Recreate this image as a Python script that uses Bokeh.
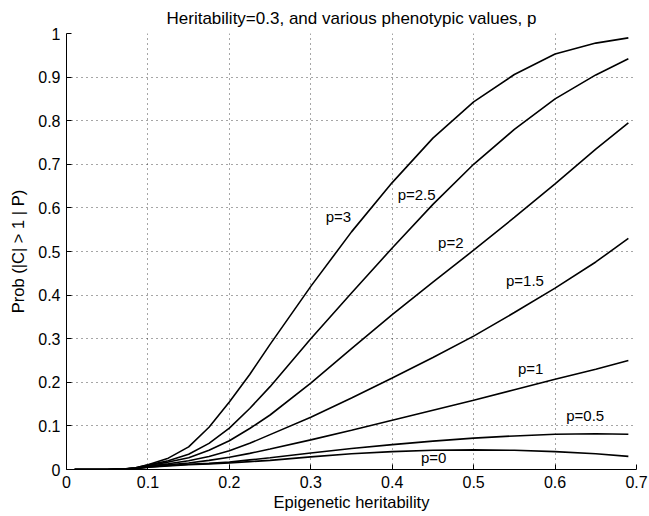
from bokeh.plotting import figure
from bokeh.models import ColumnDataSource, FixedTicker, Range1d
from bokeh.core.properties import value
from bokeh.embed import file_html
from bokeh.resources import INLINE

title_text = "Heritability=0.3, and various phenotypic values, p"
x_label = "Epigenetic heritability"
y_label = "Prob (|C| > 1 | P)"

x = [0.01, 0.05, 0.07, 0.085, 0.1, 0.125, 0.15, 0.175, 0.2, 0.225, 0.25,
     0.3, 0.35, 0.4, 0.45, 0.5, 0.55, 0.6, 0.65, 0.69]

p3 = [0, 0, 0.001, 0.004, 0.011, 0.026, 0.052, 0.097, 0.155, 0.218, 0.287,
      0.42, 0.545, 0.658, 0.76, 0.843, 0.906, 0.953, 0.978, 0.99]
p25 = [0, 0, 0.001, 0.004, 0.010, 0.02, 0.035, 0.06, 0.095, 0.14, 0.19,
       0.30, 0.405, 0.508, 0.608, 0.70, 0.78, 0.85, 0.905, 0.942]
p2 = [0, 0, 0.001, 0.003, 0.009, 0.017, 0.027, 0.044, 0.066, 0.094, 0.125,
      0.198, 0.277, 0.355, 0.43, 0.503, 0.578, 0.655, 0.735, 0.795]
p15 = [0, 0, 0.001, 0.003, 0.008, 0.013, 0.02, 0.03, 0.043, 0.06, 0.08,
       0.12, 0.164, 0.21, 0.257, 0.306, 0.36, 0.416, 0.476, 0.53]
p1 = [0, 0, 0.001, 0.003, 0.007, 0.011, 0.015, 0.021, 0.028, 0.037, 0.047,
      0.068, 0.09, 0.113, 0.136, 0.159, 0.183, 0.207, 0.23, 0.25]
p05 = [0, 0, 0.001, 0.002, 0.005, 0.009, 0.012, 0.014, 0.017, 0.022, 0.027,
       0.038, 0.048, 0.057, 0.065, 0.072, 0.077, 0.081, 0.082, 0.081]
p0 = [0, 0, 0.001, 0.002, 0.005, 0.008, 0.011, 0.013, 0.015, 0.018, 0.021,
      0.029, 0.036, 0.041, 0.044, 0.045, 0.044, 0.041, 0.036, 0.030]

series = [p3, p25, p2, p15, p1, p05, p0]

label_text = ["p=3", "p=2.5", "p=2", "p=1.5", "p=1", "p=0.5", "p=0"]
label_x = [0.334, 0.43, 0.472, 0.563, 0.57, 0.637, 0.451]
label_y = [0.58, 0.63, 0.52, 0.434, 0.231, 0.124, 0.027]

x_ticks = [0, 0.1, 0.2, 0.3, 0.4, 0.5, 0.6, 0.7]
y_ticks = [0, 0.1, 0.2, 0.3, 0.4, 0.5, 0.6, 0.7, 0.8, 0.9, 1]

FONT = "Liberation Sans"

p = figure(width=648, height=513, output_backend="svg", toolbar_location=None,
           x_range=Range1d(0, 0.7), y_range=Range1d(0, 1),
           min_border_left=66, min_border_right=12, min_border_top=6,
           min_border_bottom=5)
p.outline_line_color = None
p.background_fill_color = "white"
p.border_fill_color = "white"

p.title.text = title_text
p.title.align = "center"
p.title.text_font = FONT
p.title.text_font_size = "17px"
p.title.text_font_style = "normal"
p.title.text_color = "black"
p.title.standoff = 12

for ax, ticks in ((p.xaxis, x_ticks), (p.yaxis, y_ticks)):
    ax.ticker = FixedTicker(ticks=ticks)
    ax.major_tick_in = 5
    ax.major_tick_out = 0
    ax.minor_tick_in = 0
    ax.minor_tick_out = 0
    ax.axis_line_color = "black"
    ax.axis_line_width = 1
    ax.major_tick_line_color = "black"
    ax.major_label_text_font = FONT
    ax.major_label_text_font_size = "16px"
    ax.major_label_text_color = "black"
    ax.axis_label_text_font = FONT
    ax.axis_label_text_font_size = "16.5px"
    ax.axis_label_text_font_style = "normal"
    ax.axis_label_text_color = "black"

p.xaxis.axis_label = x_label
p.yaxis.axis_label = y_label
p.xaxis.major_label_standoff = 6
p.yaxis.major_label_standoff = 6
p.xaxis.axis_label_standoff = 2
p.yaxis.axis_label_standoff = 8
p.xaxis.major_label_overrides = {0: "0", 0.7: "0.7"}
p.yaxis.major_label_overrides = {0: "0", 1: "1"}

for g in (p.xgrid, p.ygrid):
    g.grid_line_color = "black"
    g.grid_line_alpha = 0.7
    g.grid_line_dash = "1 4"
    g.grid_line_width = 1

for ys in series:
    p.line(x, ys, line_color="black", line_width=1.6)

src = ColumnDataSource(dict(x=label_x, y=label_y, t=label_text))
p.text(x="x", y="y", text="t", source=src, text_font=value(FONT),
       text_font_size="15px", text_align="center", text_baseline="middle",
       text_color="black")

open("out.html", "w").write(file_html(p, INLINE))
